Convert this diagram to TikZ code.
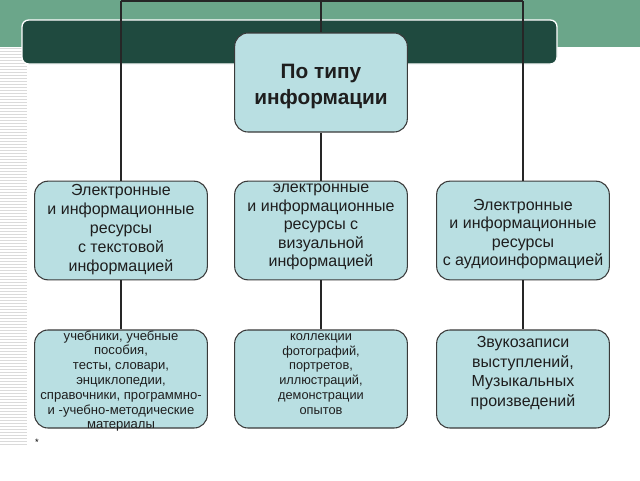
\documentclass[tikz,border=0pt]{standalone}
\usepackage{fontspec}
\setmainfont{Liberation Sans}
\definecolor{lightgreen}{HTML}{6BA68A}
\definecolor{darkbar}{HTML}{1F4A3F}
\definecolor{boxfill}{HTML}{B9DFE2}
\definecolor{boxline}{HTML}{3A3A3A}
\definecolor{stripe}{HTML}{DADADA}
\definecolor{txt}{HTML}{1E1E1E}
\begin{document}
\begin{tikzpicture}[x=0.75pt,y=-0.75pt,
  infobox/.style={draw=boxline,fill=boxfill,line width=0.8pt,rounded corners=10pt,
    minimum width=129.5pt,minimum height=74pt,inner sep=0pt},
  boxtext/.style={align=center,inner sep=0pt,text=txt},
  midtext/.style={boxtext,font=\fontsize{12}{14.2}\selectfont},
  smalltext/.style={boxtext,font=\fontsize{9.8}{11.1}\selectfont},
  conn/.style={draw=black!85,line width=1pt}]
\useasboundingbox (0,0) rectangle (640,480);
% background
\fill[lightgreen] (0,0) rectangle (640,47);
\foreach \y in {48,51,...,444} \draw[stripe,line width=0.6pt] (0,\y) -- (27,\y);
\fill[white] (27,47) rectangle (640,480);
\draw[white,fill=darkbar,line width=1pt,rounded corners=5pt] (22,20) rectangle (557,64);
% boxes
\node[infobox,minimum height=74.25pt] (top) at (321,82.5) {};
\node[infobox] (L2) at (121,230.5) {};
\node[infobox] (M2) at (321,230.5) {};
\node[infobox] (R2) at (523,230.5) {};
\node[infobox,minimum height=73.5pt] (L3) at (121,379) {};
\node[infobox,minimum height=73.5pt] (M3) at (321,379) {};
\node[infobox,minimum height=73.5pt] (R3) at (523,379) {};
% texts
\node[boxtext,font=\bfseries\fontsize{15.6}{18.8}\selectfont] (topT) at (321,86.5) {По типу\\информации};
\node[midtext] (L2T) at (121,229.5) {Электронные\\и информационные\\ресурсы\\с текстовой\\информацией};
\node[midtext,font=\fontsize{12}{13.9}\selectfont] (M2T) at (321,227) {электронные\\и информационные\\ресурсы с\\визуальной\\информацией};
\node[midtext,font=\fontsize{12}{13.9}\selectfont] (R2T) at (523,234) {Электронные\\и информационные\\ресурсы\\с аудиоинформацией};
\node[smalltext] (L3T) at (121,381) {учебники, учебные\\пособия,\\тесты, словари,\\энциклопедии,\\справочники, программно-\\и -учебно-методические\\материалы};
\node[smalltext,font=\fontsize{9.6}{11.1}\selectfont] (M3T) at (321,374) {коллекции\\фотографий,\\портретов,\\иллюстраций,\\демонстрации\\опытов};
\node[boxtext,font=\fontsize{12}{14.6}\selectfont] (R3T) at (523,373) {Звукозаписи\\выступлений,\\Музыкальных\\произведений};
\node[font=\fontsize{7}{8}\selectfont] (ast) at (37,442) {*};
% connectors
\coordinate (t1) at (121,1);
\coordinate (t2) at (321,1);
\coordinate (t3) at (523,1);
\draw[conn] (t1) -- (t3);
\draw[conn] (t1) -- (L2.north);
\draw[conn] (t3) -- (R2.north);
\draw[conn] (t2) -- (top.north);
\draw[conn] (top.south) -- (M2.north);
\draw[conn] (L2.south) -- (L3.north);
\draw[conn] (M2.south) -- (M3.north);
\draw[conn] (R2.south) -- (R3.north);
\end{tikzpicture}
\end{document}
